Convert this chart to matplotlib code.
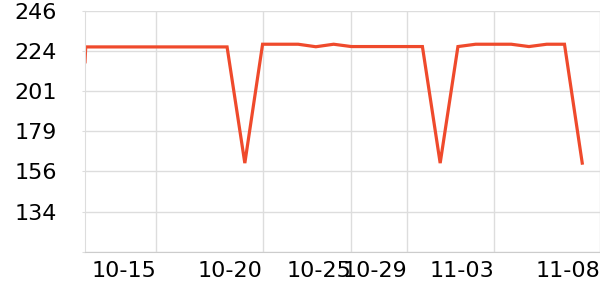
import matplotlib
matplotlib.use('Agg')
import matplotlib.pyplot as plt

# observation positions (in days from the first reading) and values
day_pos = [0, 0.04, 1, 2, 3, 4, 5, 6, 7, 8, 9, 10, 11, 12, 13, 14, 15, 16,
           17, 18, 19, 20, 21, 22, 23, 24, 25, 26, 27, 28]
values = [217.5, 225.8, 225.8, 225.8, 225.8, 225.8, 225.8, 225.8, 225.8, 225.8,
          161, 227.3, 227.3, 227.3, 225.9, 227.3, 226.0, 226.0, 226.0, 226.0,
          226.0, 161, 226.0, 227.3, 227.3, 227.3, 226.0, 227.3, 227.3, 161]

tick_pos = [4, 10, 15, 18.15, 23.05, 29]
tick_labels = ['10-15', '10-20', '10-25', '10-29', '11-03', '11-08']

y_min, y_max, y_step = 111.6, 246.0, 22.4

fig = plt.figure(figsize=(6, 3), dpi=100)
ax = fig.add_axes([85/600, 1 - 251.7/300, 515/600, (251.7 - 10.7)/300])

ax.plot(day_pos, values, color='#ef4a2c', lw=2.3, solid_joinstyle='miter')

ax.set_xlim(0, 29)
ax.set_ylim(y_min, y_max)

yt = [y_min + k*y_step for k in range(7)]
ax.set_yticks(yt)
ax.set_yticklabels([''] + [str(int(round(v))) for v in yt[1:]])
ax.set_xticks(tick_pos)
ax.set_xticklabels(tick_labels, ha='right')

ax.grid(True, color='#dddddd', lw=1)
ax.tick_params(axis='both', length=0, labelsize=16, colors='black')
ax.tick_params(axis='y', length=2, color='#dddddd', pad=18)
ax.tick_params(axis='x', pad=7)
for s in ['top', 'right']:
    ax.spines[s].set_visible(False)
ax.spines['left'].set_color('#dddddd')
ax.spines['bottom'].set_color('#cccccc')

fig.savefig('out.png', dpi=100)
